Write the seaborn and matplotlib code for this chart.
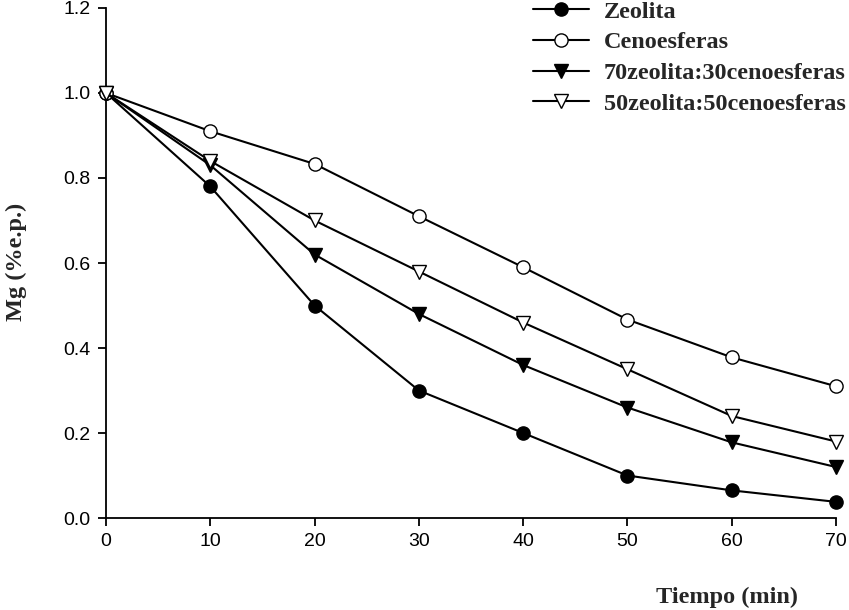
import pandas as pd
import matplotlib.pyplot as plt
import seaborn as sns

sns.set_style("ticks")

# Datos
tiempo = [0, 10, 20, 30, 40, 50, 60, 70]
zeolita = [1.0, 0.78, 0.50, 0.30, 0.20, 0.10, 0.065, 0.038]
cenoesferas = [1.0, 0.91, 0.833, 0.71, 0.59, 0.467, 0.378, 0.31]
z70_c30 = [1.0, 0.83, 0.62, 0.48, 0.36, 0.26, 0.178, 0.12]
z50_c50 = [1.0, 0.84, 0.70, 0.58, 0.46, 0.35, 0.24, 0.18]

series = {
    "Zeolita": zeolita,
    "Cenoesferas": cenoesferas,
    "70zeolita:30cenoesferas": z70_c30,
    "50zeolita:50cenoesferas": z50_c50,
}
estilos = {
    "Zeolita": ("o", "black"),
    "Cenoesferas": ("o", "white"),
    "70zeolita:30cenoesferas": ("v", "black"),
    "50zeolita:50cenoesferas": ("v", "white"),
}

df = pd.DataFrame([
    {"tiempo": t, "mg": v, "serie": nombre}
    for nombre, valores in series.items()
    for t, v in zip(tiempo, valores)
])

fig = plt.figure(figsize=(8.49, 6.10), dpi=100)
ax = fig.add_axes([0.1249, 0.1508, 0.8598, 0.8361])

for nombre in series:
    marker, relleno = estilos[nombre]
    sub = df[df["serie"] == nombre]
    sns.lineplot(data=sub, x="tiempo", y="mg", ax=ax, color="black",
                 linewidth=1.5, marker=marker, markersize=9.5,
                 markerfacecolor=relleno, markeredgecolor="black",
                 markeredgewidth=1.0, label=nombre, clip_on=False, zorder=3)

ax.set_xlim(0, 70)
ax.set_ylim(0, 1.2)
ax.set_xticks(range(0, 71, 10))
ax.set_yticks([0.0, 0.2, 0.4, 0.6, 0.8, 1.0, 1.2])
ax.set_yticklabels([f"{v:.1f}" for v in [0.0, 0.2, 0.4, 0.6, 0.8, 1.0, 1.2]])
for lbl in ax.get_xticklabels() + ax.get_yticklabels():
    lbl.set_family("Liberation Sans")
ax.tick_params(axis="both", direction="out", length=6, width=1.3,
               labelsize=14, colors="black", pad=5)
sns.despine(ax=ax)
for sp in ["left", "bottom"]:
    ax.spines[sp].set_linewidth(1.3)
    ax.spines[sp].set_color("black")

ax.set_xlabel("Tiempo (min)", fontsize=17.5, fontweight="bold",
              family="Liberation Serif")
ax.set_ylabel("Mg (%e.p.)", fontsize=17.5, fontweight="bold",
              family="Liberation Serif")
ax.xaxis.set_label_coords(0.851, -0.155)
ax.xaxis.label.set_va("center")
ax.yaxis.set_label_coords(-0.108, 0.503)

leg = ax.legend(loc="upper left", bbox_to_anchor=(0.628, 0.999),
                bbox_transform=fig.transFigure, frameon=False,
                prop={"family": "Liberation Serif", "weight": "bold", "size": 17.5},
                handlelength=2.3, handletextpad=0.6, labelspacing=0.36,
                borderpad=0, borderaxespad=0)

fig.savefig("out.png", dpi=100)
